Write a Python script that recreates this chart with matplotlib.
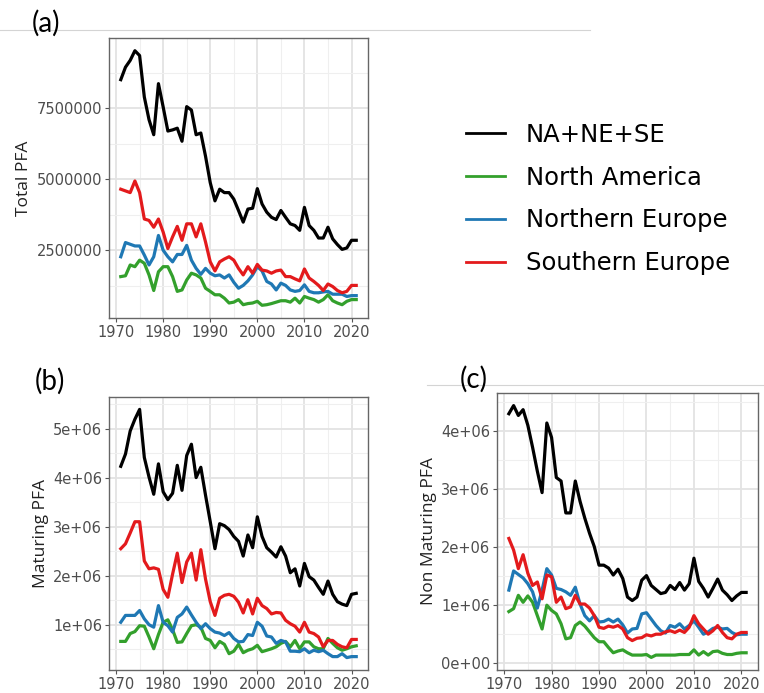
import matplotlib
matplotlib.use("Agg")
import matplotlib.pyplot as plt
from matplotlib.lines import Line2D
from matplotlib.ticker import FixedLocator, FixedFormatter

# Years covered by every series
years = list(range(1971, 2022))

# Region names and their colours
regions = ["NA+NE+SE", "North America", "Northern Europe", "Southern Europe"]
colors = ["black", "#33a02c", "#1f78b4", "#e31a1c"]

# (a) Total PFA, millions
total_all = [8.51, 8.95, 9.19, 9.53, 9.36, 7.90, 7.10, 6.57, 8.37, 7.55,
             6.70, 6.74, 6.80, 6.34, 7.56, 7.44, 6.57, 6.63, 5.81, 4.88,
             4.24, 4.65, 4.53, 4.53, 4.30, 3.90, 3.49, 3.95, 3.98, 4.67,
             4.13, 3.84, 3.66, 3.58, 3.90, 3.66, 3.43, 3.37, 3.20, 4.01,
             3.37, 3.20, 2.93, 2.93, 3.31, 2.90, 2.70, 2.53, 2.58, 2.85, 2.85]
total_na = [1.57, 1.60, 1.98, 1.92, 2.15, 2.04, 1.63, 1.08, 1.74, 1.92,
            1.92, 1.57, 1.05, 1.10, 1.45, 1.69, 1.63, 1.52, 1.16, 1.05,
            0.93, 0.93, 0.81, 0.64, 0.67, 0.76, 0.58, 0.62, 0.64, 0.70,
            0.56, 0.58, 0.62, 0.67, 0.72, 0.72, 0.67, 0.81, 0.64, 0.87,
            0.81, 0.76, 0.67, 0.76, 0.93, 0.72, 0.64, 0.58, 0.70, 0.76, 0.76]
total_ne = [2.27, 2.77, 2.71, 2.65, 2.65, 2.33, 1.98, 2.27, 3.02, 2.50,
            2.27, 2.09, 2.35, 2.35, 2.67, 2.15, 1.86, 1.65, 1.86, 1.69,
            1.60, 1.63, 1.52, 1.63, 1.37, 1.16, 1.26, 1.42, 1.63, 1.92,
            1.77, 1.40, 1.31, 1.10, 1.34, 1.26, 1.10, 1.05, 1.08, 1.28,
            1.05, 1.00, 1.00, 1.03, 1.05, 0.95, 0.95, 0.95, 0.87, 0.90, 0.90]
total_se = [4.65, 4.59, 4.53, 4.94, 4.53, 3.60, 3.55, 3.31, 3.60, 3.14,
            2.56, 2.97, 3.34, 2.85, 3.43, 3.43, 2.97, 3.43, 2.79, 2.09,
            1.77, 2.09, 2.19, 2.27, 2.15, 1.86, 1.63, 1.92, 1.69, 2.00,
            1.80, 1.77, 1.69, 1.77, 1.80, 1.57, 1.57, 1.49, 1.42, 1.84,
            1.52, 1.40, 1.26, 1.08, 1.31, 1.22, 1.08, 1.00, 1.05, 1.26, 1.26]

# (b) Maturing PFA, millions
mat_all = [4.23, 4.48, 4.95, 5.19, 5.39, 4.41, 4.01, 3.66, 4.28, 3.71,
           3.55, 3.68, 4.25, 3.74, 4.45, 4.68, 4.00, 4.21, 3.64, 3.10,
           2.55, 3.06, 3.02, 2.94, 2.80, 2.70, 2.40, 2.83, 2.57, 3.20,
           2.80, 2.57, 2.48, 2.38, 2.59, 2.40, 2.06, 2.14, 1.79, 2.25,
           1.98, 1.91, 1.76, 1.62, 1.89, 1.62, 1.47, 1.42, 1.39, 1.62, 1.64]
mat_na = [0.66, 0.66, 0.82, 0.86, 0.98, 0.97, 0.75, 0.51, 0.80, 1.05,
          1.10, 0.90, 0.64, 0.65, 0.82, 0.98, 1.00, 0.95, 0.72, 0.68,
          0.53, 0.66, 0.60, 0.41, 0.46, 0.60, 0.43, 0.48, 0.51, 0.58,
          0.45, 0.48, 0.51, 0.55, 0.62, 0.66, 0.55, 0.68, 0.51, 0.65,
          0.65, 0.55, 0.51, 0.51, 0.72, 0.62, 0.53, 0.48, 0.51, 0.55, 0.57]
mat_ne = [1.05, 1.19, 1.19, 1.19, 1.29, 1.12, 1.00, 0.95, 1.39, 1.05,
          0.98, 0.85, 1.15, 1.22, 1.36, 1.20, 1.05, 0.92, 1.02, 0.92,
          0.85, 0.83, 0.78, 0.84, 0.72, 0.65, 0.66, 0.80, 0.78, 1.05,
          0.97, 0.77, 0.75, 0.62, 0.68, 0.65, 0.46, 0.46, 0.45, 0.51,
          0.43, 0.48, 0.45, 0.48, 0.41, 0.35, 0.35, 0.41, 0.33, 0.35, 0.35]
mat_se = [2.55, 2.65, 2.87, 3.10, 3.10, 2.30, 2.14, 2.16, 2.13, 1.72,
          1.56, 2.03, 2.46, 1.86, 2.28, 2.46, 1.91, 2.53, 1.93, 1.47,
          1.19, 1.54, 1.60, 1.62, 1.58, 1.46, 1.24, 1.51, 1.22, 1.54,
          1.39, 1.33, 1.22, 1.25, 1.24, 1.09, 1.02, 0.97, 0.85, 1.05,
          0.85, 0.82, 0.75, 0.55, 0.68, 0.68, 0.60, 0.55, 0.53, 0.70, 0.70]

# (c) Non maturing PFA, millions
non_all = [4.29, 4.43, 4.26, 4.36, 4.09, 3.71, 3.30, 2.93, 4.13, 3.88,
           3.19, 3.13, 2.58, 2.58, 3.13, 2.78, 2.49, 2.23, 2.00, 1.68,
           1.68, 1.63, 1.51, 1.61, 1.45, 1.13, 1.07, 1.13, 1.42, 1.50,
           1.33, 1.26, 1.19, 1.21, 1.33, 1.26, 1.38, 1.25, 1.36, 1.80,
           1.40, 1.28, 1.13, 1.28, 1.44, 1.25, 1.17, 1.07, 1.15, 1.21, 1.21]
non_na = [0.88, 0.93, 1.16, 1.04, 1.15, 1.04, 0.81, 0.58, 0.99, 0.90,
          0.84, 0.67, 0.41, 0.43, 0.64, 0.70, 0.63, 0.53, 0.43, 0.36,
          0.36, 0.26, 0.17, 0.20, 0.22, 0.17, 0.13, 0.13, 0.13, 0.14,
          0.09, 0.13, 0.13, 0.13, 0.13, 0.13, 0.14, 0.14, 0.14, 0.22,
          0.13, 0.19, 0.13, 0.19, 0.20, 0.16, 0.14, 0.14, 0.16, 0.17, 0.17]
non_ne = [1.25, 1.58, 1.52, 1.46, 1.36, 1.22, 0.94, 1.25, 1.62, 1.51,
          1.28, 1.26, 1.22, 1.16, 1.30, 1.01, 0.81, 0.72, 0.81, 0.70,
          0.71, 0.75, 0.70, 0.75, 0.65, 0.51, 0.58, 0.59, 0.84, 0.86,
          0.75, 0.64, 0.55, 0.51, 0.64, 0.61, 0.67, 0.58, 0.64, 0.72,
          0.61, 0.49, 0.53, 0.59, 0.61, 0.58, 0.59, 0.52, 0.48, 0.49, 0.49]
non_se = [2.14, 1.94, 1.62, 1.86, 1.54, 1.33, 1.39, 1.10, 1.51, 1.48,
          1.04, 1.13, 0.93, 0.96, 1.16, 1.01, 1.01, 0.94, 0.81, 0.61,
          0.59, 0.63, 0.61, 0.64, 0.58, 0.43, 0.38, 0.42, 0.43, 0.48,
          0.46, 0.49, 0.49, 0.53, 0.55, 0.52, 0.56, 0.52, 0.61, 0.81,
          0.67, 0.58, 0.49, 0.55, 0.64, 0.52, 0.43, 0.41, 0.49, 0.52, 0.52]

# Tick values and labels
x_ticks = [1970, 1980, 1990, 2000, 2010, 2020]
a_ticks = [2500000, 5000000, 7500000]
a_labels = ["2500000", "5000000", "7500000"]
b_ticks = [1e6, 2e6, 3e6, 4e6, 5e6]
b_labels = ["1e+06", "2e+06", "3e+06", "4e+06", "5e+06"]
c_ticks = [0, 1e6, 2e6, 3e6, 4e6]
c_labels = ["0e+00", "1e+06", "2e+06", "3e+06", "4e+06"]

W, H = 764, 693
fig = plt.figure(figsize=(W / 100, H / 100), dpi=100)


def px_axes(left, top, right, bottom):
    # axes from pixel box of the reference picture
    return fig.add_axes([left / W, 1 - bottom / H, (right - left) / W, (bottom - top) / H])


def style_panel(ax, yticks, ylabels, ylabel):
    ax.set_facecolor("white")
    ax.margins(x=0.05, y=0.05)
    ax.xaxis.set_major_locator(FixedLocator(x_ticks))
    ax.xaxis.set_minor_locator(FixedLocator([t + 5 for t in x_ticks]))
    ax.yaxis.set_major_locator(FixedLocator(yticks))
    ax.yaxis.set_major_formatter(FixedFormatter(ylabels))
    step = yticks[1] - yticks[0]
    minors = [yticks[0] - step / 2] + [t + step / 2 for t in yticks]
    ax.yaxis.set_minor_locator(FixedLocator(minors))
    ax.grid(True, which="major", color="#e3e3e3", linewidth=1.3, zorder=0)
    ax.grid(True, which="minor", color="#efefef", linewidth=0.8, zorder=0)
    ax.set_axisbelow(True)
    ax.tick_params(which="major", length=3, width=0.8, color="#555555",
                   labelcolor="#4d4d4d", labelsize=10.5, pad=2)
    ax.tick_params(which="minor", length=0)
    for s in ax.spines.values():
        s.set_color("#666666")
        s.set_linewidth(1.0)
    ax.set_ylabel(ylabel, family="Open Sans", fontsize=12.5, color="#222222", labelpad=3)


def draw(ax, series):
    for vals, col, name in zip(series, colors, regions):
        ax.plot(years, [v * 1e6 for v in vals], color=col, linewidth=2.3, label=name)


ax_a = px_axes(109, 38, 368, 318)
draw(ax_a, [total_all, total_na, total_ne, total_se])
style_panel(ax_a, a_ticks, a_labels, "Total PFA")

ax_b = px_axes(109, 397, 368, 670)
draw(ax_b, [mat_all, mat_na, mat_ne, mat_se])
style_panel(ax_b, b_ticks, b_labels, "Maturing PFA")

ax_c = px_axes(497, 393, 758, 670)
draw(ax_c, [non_all, non_na, non_ne, non_se])
style_panel(ax_c, c_ticks, c_labels, "Non Maturing PFA")

# Panel letters
fig.text(32 / W, 1 - 23 / H, "(a)", family="Lato", fontsize=20, va="center", ha="left")
fig.text(35 / W, 1 - 381 / H, "(b)", family="Lato", fontsize=20, va="center", ha="left")
fig.text(460 / W, 1 - 379 / H, "(c)", family="Lato", fontsize=20, va="center", ha="left")

# faint separator lines left over from the composed figure
fig.add_artist(Line2D([0, 590 / W], [1 - 30 / H, 1 - 30 / H], color="#d4d4d4", linewidth=0.8))
fig.add_artist(Line2D([427 / W, 1], [1 - 385 / H, 1 - 385 / H], color="#d4d4d4", linewidth=0.8))

# Shared legend
handles, labels = ax_a.get_legend_handles_labels()
leg = fig.legend(handles, labels, loc="center left", bbox_to_anchor=(466 / W, 1 - 199 / H),
                 frameon=False, fontsize=17.5, handlelength=1.6, handletextpad=0.85,
                 labelspacing=0.78, borderpad=0, borderaxespad=0)
for line in leg.get_lines():
    line.set_linewidth(2.0)

fig.savefig("out.png", dpi=100)
